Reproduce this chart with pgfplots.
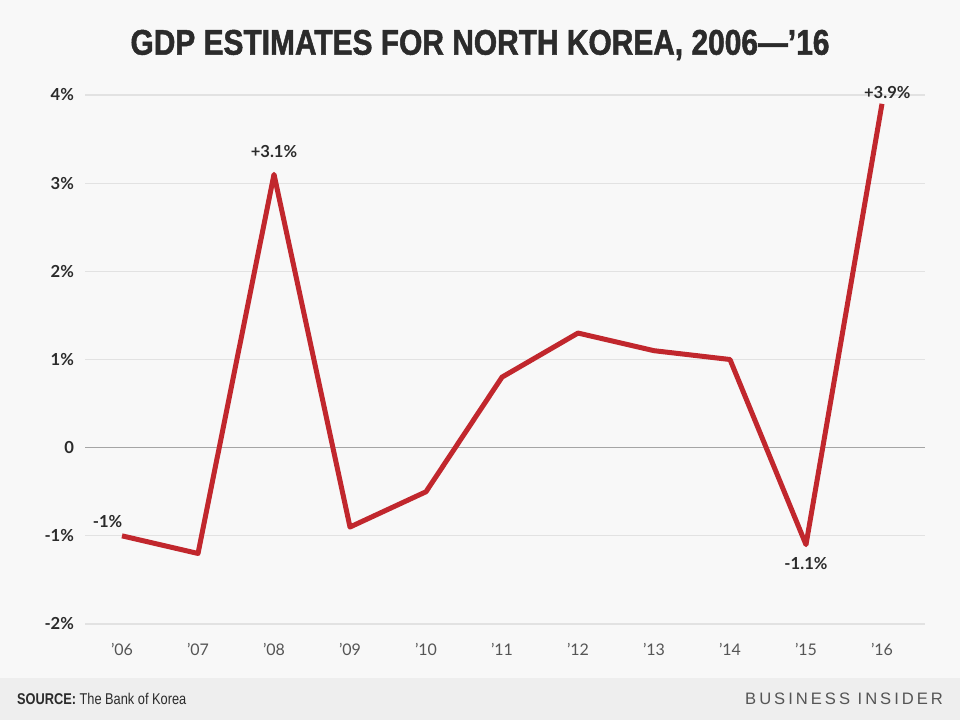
\documentclass[border=0pt]{standalone}
\usepackage{pgfplots}
\pgfplotsset{compat=1.18}
\usepackage{fontspec}
\setmainfont{Liberation Sans}
\newfontfamily\titlefont[FakeStretch=0.84,FakeBold=1.4]{Liberation Sans}
\newfontfamily\condfont[FakeStretch=0.82]{Liberation Sans}
\newfontfamily\bifont[LetterSpace=18]{Liberation Sans}
\newfontfamily\lblfont{Lato}
\definecolor{bg}{HTML}{F8F8F8}
\definecolor{foot}{HTML}{EEEEEE}
\definecolor{linered}{HTML}{C1272D}
\definecolor{gridc}{HTML}{E2E2E2}
\definecolor{zeroc}{HTML}{A5A5A5}
\definecolor{txt}{HTML}{2B2B2B}
\definecolor{xt}{HTML}{555555}
\begin{document}
\begin{tikzpicture}[x=1pt,y=1pt]
\fill[bg] (0,0) rectangle (480,360);
\fill[foot] (0,0) rectangle (480,21);
\node[anchor=center,text=txt] at (240,337.5) {\titlefont\fontsize{17.8}{20}\selectfont\bfseries GDP ESTIMATES FOR NORTH KOREA, 2006—’16};
\node[anchor=west,text=txt] at (5,10.5) {\condfont\fontsize{7.8}{9}\selectfont\textbf{SOURCE:} The Bank of Korea};
\node[anchor=east,text=xt] at (475,10.5) {\bifont\fontsize{8.3}{9}\selectfont BUSINESS INSIDER};
\begin{axis}[
  at={(42.5pt,48pt)}, anchor=south west,
  scale only axis, width=420pt, height=264.5pt,
  xmin=-0.487, xmax=10.566, ymin=-2, ymax=4,
  axis line style={draw=none},
  clip=false,
  ytick={-2,-1,0,1,2,3,4},
  yticklabels={-2\%,-1\%,0,1\%,2\%,3\%,4\%},
  xtick={0,...,10},
  xticklabels={’06,’07,’08,’09,’10,’11,’12,’13,’14,’15,’16},
  ymajorgrids,
  grid style={gridc, line width=0.6pt},
  major tick length=0pt,
  yticklabel style={font=\lblfont\fontsize{8.3}{9}\selectfont\bfseries, text=txt, xshift=-2pt},
  xticklabel style={font=\lblfont\fontsize{8}{9}\selectfont, text=xt, yshift=-6pt},
  /pgf/number format/assume math mode=true,
]
\addplot[zeroc, line width=0.8pt, forget plot] coordinates {(-0.487,0) (10.566,0)};
\addplot[linered, line width=2.5pt, line join=round, line cap=butt, mark=none] coordinates {
 (0,-1.0) (1,-1.2) (2,3.1) (3,-0.9) (4,-0.5) (5,0.8) (6,1.3) (7,1.1) (8,1.0) (9,-1.1) (10,3.9)};
\node[font=\lblfont\fontsize{8.3}{9}\selectfont\bfseries, text=txt] at (axis cs:-0.19,-0.84) {-1\%};
\node[font=\lblfont\fontsize{8.3}{9}\selectfont\bfseries, text=txt] at (axis cs:2,3.36) {+3.1\%};
\node[font=\lblfont\fontsize{8.3}{9}\selectfont\bfseries, text=txt] at (axis cs:9,-1.31) {-1.1\%};
\node[font=\lblfont\fontsize{8.3}{9}\selectfont\bfseries, text=txt] at (axis cs:10.07,4.03) {+3.9\%};
\end{axis}
\end{tikzpicture}
\end{document}
